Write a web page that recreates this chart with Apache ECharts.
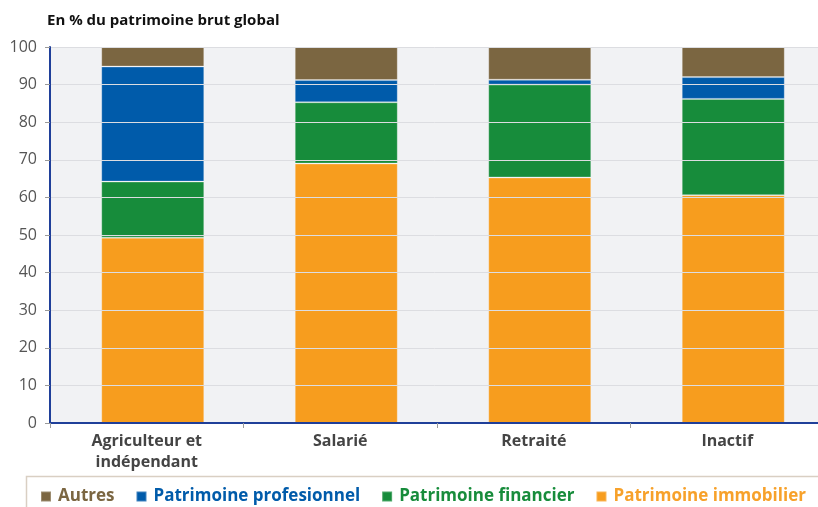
<!DOCTYPE html>
<html lang="fr">
<head>
<meta charset="UTF-8">
<title>Composition du patrimoine</title>
<script src="https://cdn.jsdelivr.net/npm/echarts@6/dist/echarts.min.js"></script>
<style>
  html, body { margin: 0; padding: 0; background: #fff; }
  #main { width: 818px; height: 507px; }
</style>
</head>
<body>
<div id="main"></div>
<script>
// categories et valeurs (en % du patrimoine brut global)
var categories = ['Agriculteur et\nindépendant', 'Salarié', 'Retraité', 'Inactif'];
var immobilier = [49.3, 69.0, 65.3, 60.6];
var financier = [14.9, 16.3, 24.7, 25.6];
var professionnel = [30.6, 5.9, 1.3, 5.8];
var autres = [5.2, 8.8, 8.7, 8.0];

var colors = {
  imm: '#f79d1e',
  fin: '#178c3b',
  pro: '#005baa',
  aut: '#7b6641'
};
var legendColors = {
  'Autres': '#7b6641',
  'Patrimoine profesionnel': '#005baa',
  'Patrimoine financier': '#178c3b',
  'Patrimoine immobilier': '#f7a12a'
};

var font = '"Open Sans", "Noto Sans", sans-serif';
var myChart = echarts.init(document.getElementById('main'));

function serie(name, data, color) {
  return {
    name: name,
    type: 'bar',
    stack: 'total',
    xAxisIndex: 1,
    yAxisIndex: 1,
    barWidth: 103,
    data: data,
    itemStyle: { color: color, borderColor: 'rgba(255,255,255,0.25)', borderWidth: 1 },
    emphasis: { disabled: true }
  };
}

var option = {
  animation: false,
  title: {
    text: 'En % du patrimoine brut global',
    left: 42,
    top: 8,
    textStyle: { fontFamily: font, fontWeight: 'bold', fontSize: 15, color: '#111' }
  },
  legend: {
    data: ['Autres', 'Patrimoine profesionnel', 'Patrimoine financier', 'Patrimoine immobilier'].map(function (n) {
      return { name: n, textStyle: { color: legendColors[n] } };
    }),
    left: 35,
    top: 483,
    itemWidth: 10,
    itemHeight: 10,
    itemGap: 21,
    icon: 'rect',
    textStyle: { fontFamily: font, fontWeight: 'bold', fontSize: 17, padding: [0, 0, 0, 2] }
  },
  graphic: [{
    type: 'polyline',
    shape: { points: [[26.5, 507], [26.5, 476.5], [818, 476.5]] },
    style: { stroke: '#d9cfc3', lineWidth: 1.5, fill: null },
    silent: true
  }],
  // grille 0 : axes, étiquettes ; grille 1 : barres (légèrement décalées à droite)
  grid: [
    { left: 50, right: -6, top: 47, bottom: 84, outerBoundsMode: 'none',
      show: true, backgroundColor: '#f1f2f4', borderWidth: 0 },
    { left: 56, right: -12, top: 47, bottom: 84, outerBoundsMode: 'none' }
  ],
  xAxis: [{
    type: 'category',
    gridIndex: 0,
    data: categories,
    axisLine: { lineStyle: { color: '#1f3f99', width: 2 } },
    axisTick: { show: true, length: 5, lineStyle: { color: '#9a9a9a' } },
    axisLabel: { fontFamily: font, fontWeight: 'bold', fontSize: 16, color: '#444',
                 lineHeight: 21, margin: 8 },
    z: 5
  }, {
    type: 'category',
    gridIndex: 1,
    data: categories,
    show: false
  }],
  yAxis: [{
    type: 'value',
    gridIndex: 0,
    min: 0,
    max: 100,
    interval: 10,
    axisLine: { show: true, lineStyle: { color: '#1f3f99', width: 2 } },
    axisTick: { show: true, length: 5, lineStyle: { color: '#9a9a9a' } },
    axisLabel: { fontFamily: font, fontSize: 16, color: '#555', margin: 13 },
    splitLine: { lineStyle: { color: '#dcdde1', width: 1 } },
    z: 5
  }, {
    type: 'value',
    gridIndex: 1,
    min: 0,
    max: 100,
    interval: 10,
    show: false,
    splitLine: { show: false }
  }],
  series: [
    serie('Patrimoine immobilier', immobilier, colors.imm),
    serie('Patrimoine financier', financier, colors.fin),
    serie('Patrimoine profesionnel', professionnel, colors.pro),
    serie('Autres', autres, colors.aut)
  ]
};

myChart.setOption(option);
</script>
</body>
</html>
